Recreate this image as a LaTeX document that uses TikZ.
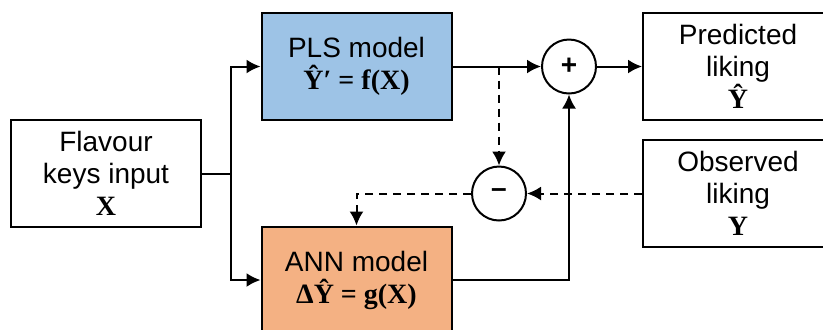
\documentclass[tikz,border=0pt]{standalone}
\usepackage{fontspec}
\setsansfont{Liberation Sans}
\newfontfamily\tms{Liberation Serif}
\usetikzlibrary{arrows.meta}
\definecolor{plsblue}{RGB}{157,195,230}
\definecolor{annorange}{RGB}{244,177,131}
\tikzset{
  box/.style={draw, line width=1pt, minimum width=95pt, minimum height=53.5pt,
    align=center, inner sep=0pt, font=\sffamily\fontsize{14}{16}\selectfont},
  sum/.style={draw, circle, line width=1pt, minimum size=27pt, inner sep=0pt,
    font=\sffamily\bfseries\fontsize{14}{16}\selectfont},
  arr/.style={line width=1pt, -{Latex[length=7pt,width=7pt]}},
  dash line/.style={dash pattern=on 4pt off 3pt}
}
\begin{document}
\begin{tikzpicture}[x=0.5pt,y=-0.5pt]
  \useasboundingbox (0,0) rectangle (823,329);
  % blocks
  \node[box] (in) at (106,173.5) {Flavour\\keys input\\{\tms\bfseries X}};
  \node[box, fill=plsblue] (pls) at (356.5,66.5) {PLS model\\{\tms\bfseries Ŷ′ = f(X)}};
  \node[box, fill=annorange] (ann) at (356.5,280) {ANN model\\{\tms\bfseries ΔŶ = g(X)}};
  \node[box] (pred) at (738,66.5) {Predicted\\liking\\{\tms\bfseries Ŷ}};
  \node[box] (obs) at (738,193.5) {Observed\\liking\\{\tms\bfseries Y}};
  \node[sum] (plus) at (569,66.5) {+};
  \node[sum] (minus) at (499,193.5) {–};
  \coordinate (j) at (231,173.5);
  \coordinate (s) at (499,66.5);
  % connectors
  \draw[line width=1pt] (in.east) -- (j);
  \draw[arr] (j) |- (pls.west);
  \draw[arr] (j) |- (ann.west);
  \draw[arr] (pls.east) -- (plus.west);
  \draw[arr] (plus.east) -- (pred.west);
  \draw[arr] (ann.east) -| (plus.south);
  \draw[arr, dash line] (s) -- (minus.north);
  \draw[arr, dash line] (obs.west) -- (minus.east);
  \draw[arr, dash line] (minus.west) -| (ann.north);
\end{tikzpicture}
\end{document}
